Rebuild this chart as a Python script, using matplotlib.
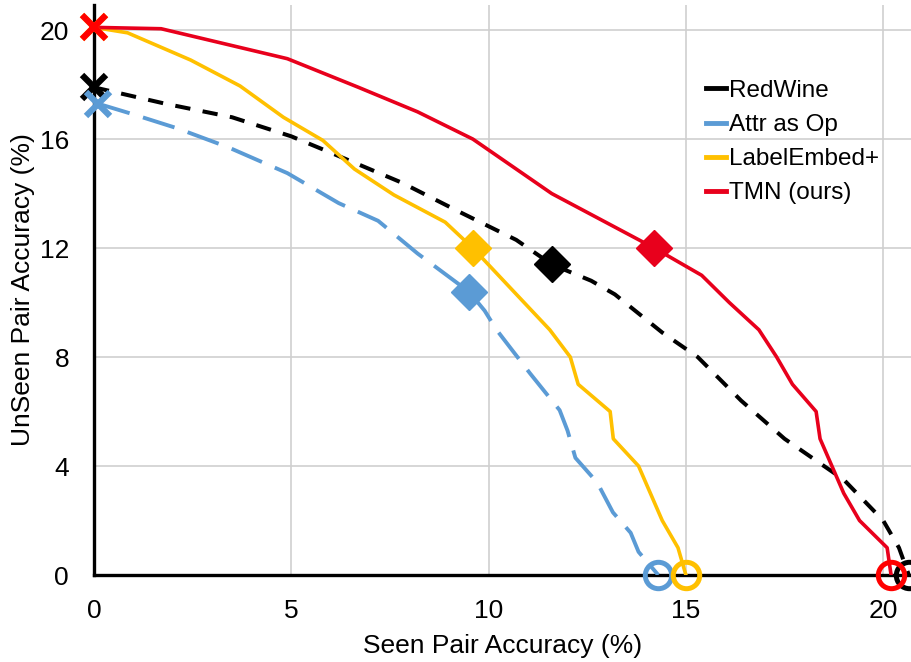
import matplotlib
matplotlib.use('Agg')
import matplotlib.pyplot as plt
from matplotlib.lines import Line2D

plt.rcParams['font.family'] = ['Liberation Sans', 'DejaVu Sans']

# curves: (seen acc, unseen acc)
redwine_x = [0.0, 1.8, 3.5, 5.0, 6.0, 7.8, 9.3, 10.7, 11.6, 12.6, 13.2, 14.4, 15.3, 16.4, 17.5, 18.3, 19.0, 20.0, 20.4, 20.65]
redwine_y = [17.9, 17.3, 16.8, 16.1, 15.5, 14.4, 13.3, 12.3, 11.4, 10.8, 10.3, 8.9, 8.0, 6.4, 5.0, 4.2, 3.5, 2.0, 1.0, 0.0]

attr_x = [0.1, 0.9, 2.1, 3.4, 4.9, 6.2, 7.2, 8.2, 9.5, 9.9, 10.2, 11.05, 11.8, 12.0, 12.2, 12.75, 13.15, 13.6, 13.8, 14.3]
attr_y = [17.3, 16.95, 16.4, 15.7, 14.75, 13.65, 13.0, 11.8, 10.4, 9.7, 9.0, 7.4, 6.05, 5.3, 4.3, 3.4, 2.3, 1.55, 0.85, 0.0]

label_x = [0.0, 0.85, 2.45, 3.7, 4.8, 5.8, 6.6, 7.6, 8.9, 9.6, 10.25, 10.9, 11.55, 12.07, 12.27, 13.08, 13.16, 13.8, 14.1, 14.4, 14.8, 15.0]
label_y = [20.1, 19.9, 18.9, 17.95, 16.8, 15.95, 14.9, 13.95, 12.95, 12.0, 11.0, 10.0, 9.0, 8.0, 7.0, 6.0, 5.0, 4.0, 3.0, 2.0, 1.0, 0.0]

tmn_x = [0.0, 1.7, 3.3, 4.9, 6.7, 8.2, 9.6, 10.6, 11.6, 12.9, 14.2, 15.4, 16.1, 16.85, 17.3, 17.7, 18.3, 18.4, 18.7, 19.0, 19.4, 20.1, 20.2]
tmn_y = [20.1, 20.05, 19.5, 18.95, 17.9, 17.0, 16.0, 15.0, 14.0, 13.0, 12.0, 11.0, 10.0, 9.0, 8.0, 7.0, 6.0, 5.0, 4.0, 3.0, 2.0, 1.0, 0.0]

# diamond = operating point in the middle of each curve
mid_idx = [8, 8, 9, 10]

names = ['RedWine', 'Attr as Op', 'LabelEmbed+', 'TMN (ours)']
line_colors = ['black', '#5B9BD5', '#FFC000', '#E8001C']
end_colors = ['black', '#5B9BD5', '#FFC000', '#FF0000']
dash_styles = [(0, (3.8, 3.1)), (0, (8.5, 3.6)), '-', '-']
widths = [2.9, 2.8, 2.6, 2.6]

fig = plt.figure(figsize=(9.12, 6.62), dpi=100)
ax = fig.add_axes([0.1031, 0.1314, 0.8969, 0.861])

curves = [(redwine_x, redwine_y), (attr_x, attr_y), (label_x, label_y), (tmn_x, tmn_y)]
for (xs, ys), c, ec, ls, lw, mi in zip(curves, line_colors, end_colors, dash_styles, widths, mid_idx):
    ax.plot(xs, ys, color=c, linestyle=ls, lw=lw, dash_capstyle='butt', zorder=3)
    ax.plot(xs[0], ys[0], marker='x', ms=17, mew=4.5, color=ec, clip_on=False, zorder=4)
    ax.plot(xs[mi], ys[mi], marker='D', ms=18, color=c, clip_on=False, zorder=4)
    ax.plot(xs[-1], ys[-1], marker='o', ms=19, mfc='none', mew=3.6, mec=ec, clip_on=False, zorder=4)

ax.set_xlim(0, 20.73)
ax.set_ylim(0, 20.92)
ax.set_xticks([0, 5, 10, 15, 20])
ax.set_yticks([0, 4, 8, 12, 16, 20])
ax.grid(True, color='#cfcfcf', lw=1.2)
ax.set_axisbelow(True)
for s in ['top', 'right']:
    ax.spines[s].set_visible(False)
for s in ['left', 'bottom']:
    ax.spines[s].set_linewidth(2.4)
    ax.spines[s].set_zorder(2.5)
ax.tick_params(axis='both', length=0, labelsize=19)
ax.tick_params(axis='x', pad=17)
ax.tick_params(axis='y', pad=18)
ax.set_xlabel('Seen Pair Accuracy (%)', fontsize=19, labelpad=8)
ax.set_ylabel('UnSeen Pair Accuracy (%)', fontsize=19, labelpad=3)

handles = [Line2D([0], [0], color=c, lw=3.5) for c in line_colors]
ax.legend(handles, names, loc='upper left', bbox_to_anchor=(0.733, 0.89), frameon=False,
          fontsize=17.5, handlelength=0.85, handletextpad=0.1, labelspacing=0.5, borderpad=0)

fig.savefig('out.png', dpi=100)
